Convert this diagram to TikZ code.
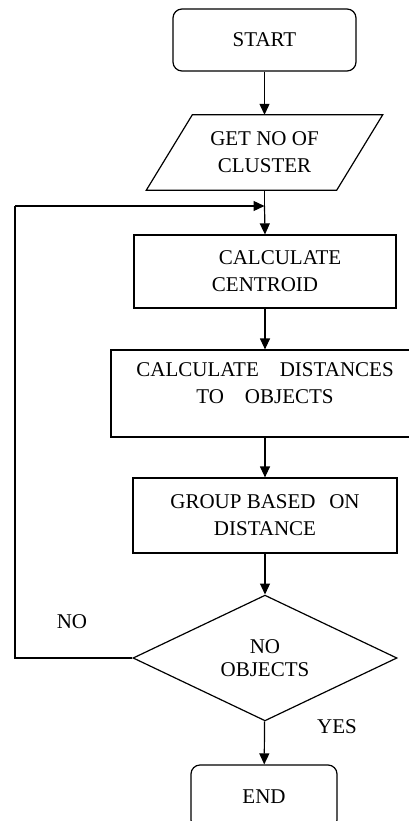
\documentclass[tikz,border=0pt]{standalone}
\usepackage{fontspec}
\setmainfont{Liberation Serif}
\usetikzlibrary{arrows.meta,shapes.geometric}
\begin{document}
\begin{tikzpicture}[x=1pt,y=-1pt,
  every node/.style={font=\fontsize{21}{27}\selectfont, align=center, inner sep=0pt},
  box/.style={draw, line width=1.2pt, minimum width=#1},
  term/.style={draw, line width=1.2pt, rounded corners=9pt},
  flow/.style={line width=1.2pt, -{Triangle[length=11pt,width=10pt]}},
  plain/.style={line width=1.2pt},
  lbl/.style={font=\fontsize{21}{27}\selectfont}]
\useasboundingbox (0,0) rectangle (409,821);

\node[term, minimum width=183pt, minimum height=62pt] (start) at (264.5,40) {START};

\node[minimum width=190pt, minimum height=75pt] (para) at (264.5,152.5) {GET NO OF\\CLUSTER};
\draw[plain] ([xshift=23pt]para.north west) -- ([xshift=23pt]para.north east)
  -- ([xshift=-23pt]para.south east) -- ([xshift=-23pt]para.south west) -- cycle;

\coordinate (join) at (264.5,206);
\coordinate (fbtop) at (15,206);

\node[box=262pt, minimum height=73pt] (cent) at (265,271.5) {\hspace*{30pt}CALCULATE\\CENTROID};

\node[box=308pt, minimum height=87pt] (dist) at (265,393.5) {};
\node (disttext) at ([yshift=10pt]dist.center) {CALCULATE\quad DISTANCES\\TO\quad OBJECTS};

\node[box=264pt, minimum height=75pt] (group) at (265,515.5) {GROUP BASED\hspace{0.65em}ON\\DISTANCE};

\node[draw, line width=1.2pt, diamond, minimum width=264pt, minimum height=120pt,
  font=\fontsize{21}{23}\selectfont] (dec) at (265,658) {NO\\OBJECTS};

\node[term, minimum width=146pt, minimum height=64pt] (end) at (264,797) {END};

\node[lbl] (no) at (72,622) {NO};
\node[lbl] (yes) at (337,727) {YES};

\draw[flow] (start) -- (para);
\draw[plain] (para.south) -- (join);
\draw[flow] (join) -- (cent.north);
\draw[flow] (cent) -- (dist);
\draw[flow] (dist) -- (group);
\draw[flow] (group) -- (dec);
\draw[flow] (dec) -- (end);
\draw[plain] (dec.west) -| (fbtop);
\draw[flow] (fbtop) -- (join);
\end{tikzpicture}
\end{document}
